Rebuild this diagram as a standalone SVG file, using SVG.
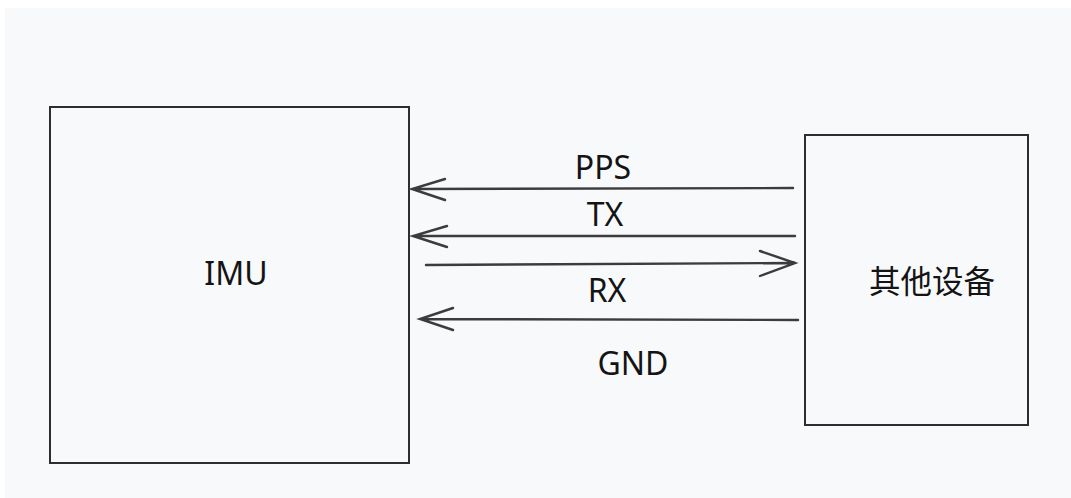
<svg xmlns="http://www.w3.org/2000/svg" width="1071" height="498" viewBox="0 0 1071 498">
  <style>
    .box { fill: #f8f9fb; stroke: #2e2e2e; stroke-width: 2; }
    .wire { fill: none; stroke: #3c3c3c; stroke-width: 2.4; stroke-linecap: round; }
    .lbl { font-family: "Noto Sans", "Open Sans", "Liberation Sans", sans-serif; fill: #141414; text-anchor: middle; }
    .cjk { font-family: "Noto Sans CJK SC", "Noto Sans", sans-serif; fill: #141414; text-anchor: middle; }
  </style>
  <rect x="0" y="0" width="1071" height="498" fill="#ffffff"/>
  <rect x="5" y="8" width="1066" height="490" fill="#f8f9fb"/>

  <g id="imu">
    <rect class="box" x="50" y="107" width="359" height="356"/>
    <text class="lbl" x="236" y="285" font-size="32">IMU</text>
  </g>

  <g id="other-device">
    <rect class="box" x="805" y="135" width="223" height="290"/>
    <text class="cjk" x="932" y="293" font-size="31.5">其他设备</text>
  </g>

  <g id="connectors">
    <!-- PPS -->
    <path class="wire" d="M793,188 L412,189 M445,179 L412,189 L445,200"/>
    <!-- TX -->
    <path class="wire" d="M795,236 L413,236 M447,226 L413,236 L447,247"/>
    <!-- RX out -->
    <path class="wire" d="M426,265 L795,263 M760,251 L795,263 L760,276"/>
    <!-- GND -->
    <path class="wire" d="M798,320 L420,319 M453,308 L420,319 L453,330"/>
  </g>

  <g id="labels">
    <text class="lbl" x="603" y="179" font-size="32">PPS</text>
    <text class="lbl" x="605" y="226" font-size="32">TX</text>
    <text class="lbl" x="607" y="302" font-size="32">RX</text>
    <text class="lbl" x="633" y="375" font-size="32">GND</text>
  </g>
</svg>
